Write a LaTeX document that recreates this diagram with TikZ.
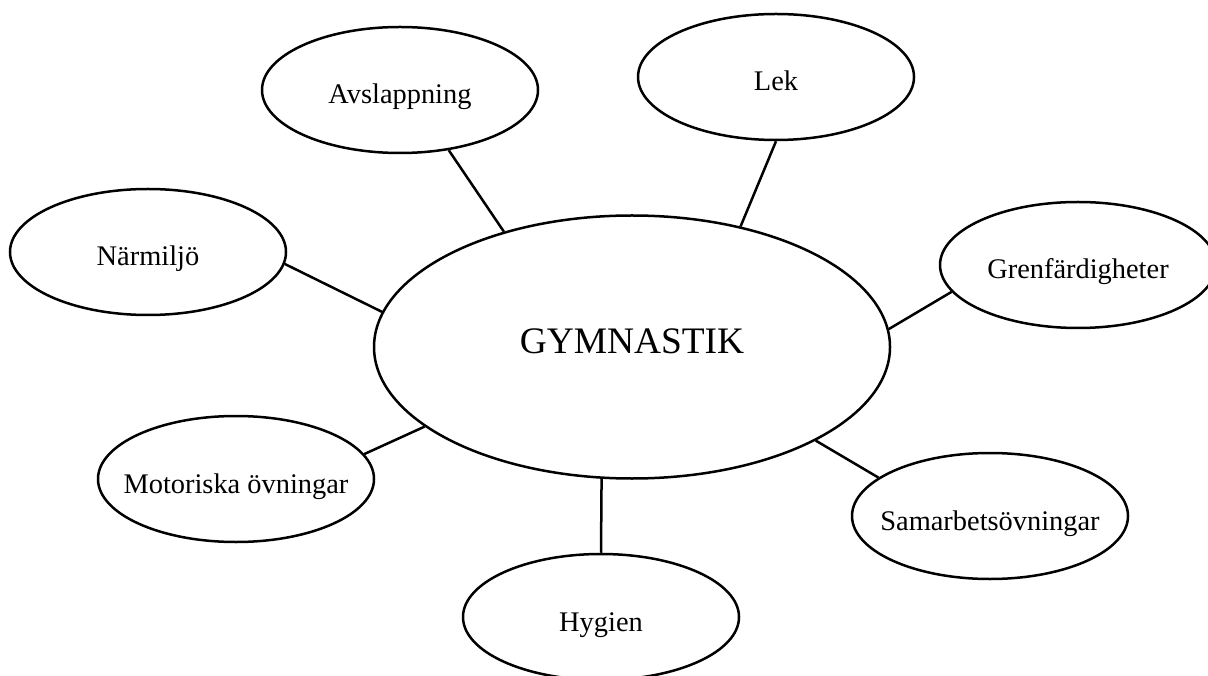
\documentclass[tikz,border=0pt]{standalone}
\usepackage{fontspec}
\setmainfont{Liberation Serif}
\usetikzlibrary{shapes.geometric}
\newcommand{\bubbletext}[2][-7pt]{\makebox[0pt]{\raisebox{#1}[0pt][0pt]{#2}}}
\tikzset{
	bubble/.style={draw, ellipse, line width=1.25pt, inner sep=0pt, minimum width=138pt, minimum height=63pt, font=\fontsize{14.2}{17}\selectfont},
	hub/.style={bubble, minimum width=258pt, minimum height=131.5pt, font=\fontsize{18.7}{22}\selectfont},
	spoke/.style={line width=1.25pt}
}
\begin{document}
\begin{tikzpicture}[x=0.5pt,y=0.5pt]
	\useasboundingbox (0,0) rectangle (1208,675);
	
	\node[hub] (gym) at (632,328) {\bubbletext[-3pt]{GYMNASTIK}};
	
	\node[bubble] (avs) at (400,585) {\bubbletext{Avslappning}};
	\node[bubble] (lek) at (776,598) {\bubbletext{Lek}};
	\node[bubble] (nar) at (148,423) {\bubbletext{Närmiljö}};
	\node[bubble] (gren) at (1078,410) {\bubbletext{Grenfärdigheter}};
	\node[bubble] (mot) at (236,196) {\bubbletext{Motoriska övningar}};
	\node[bubble] (sam) at (990,159) {\bubbletext{Samarbetsövningar}};
	\node[bubble] (hyg) at (601,58) {\bubbletext{Hygien}};
	
	\draw[spoke] (avs.-51.6) -- (gym.138);
	\draw[spoke] (lek.-90) -- (gym.48.3);
	\draw[spoke] (nar.-5.3) -- (gym.172.5);
	\draw[spoke] (gren.192) -- (gym.4);
	\draw[spoke] (mot.11.6) -- (gym.201.6);
	\draw[spoke] (sam.161.7) -- (gym.-27.4);
	\draw[spoke] (hyg.north) -- (gym.-103.3);
	
\end{tikzpicture}
\end{document}
